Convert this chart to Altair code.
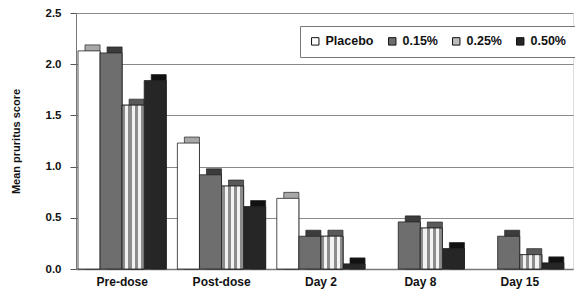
import altair as alt
import pandas as pd

categories = ["Pre-dose", "Post-dose", "Day 2", "Day 8", "Day 15"]
groups = ["Placebo", "0.15%", "0.25%", "0.50%"]
placebo = [2.13, 1.23, 0.69, 0.0, 0.0]
pct015 = [2.11, 0.92, 0.32, 0.46, 0.32]
pct025 = [1.60, 0.81, 0.32, 0.40, 0.14]
pct050 = [1.84, 0.61, 0.05, 0.20, 0.06]

front_colors = ["#ffffff", "#6e6e6e", "#bdbdbd", "#262626"]
side_colors = ["#a8a8a8", "#3c3c3c", "#5a5a5a", "#111111"]

rows = []
for gi, (g, vals) in enumerate(zip(groups, [placebo, pct015, pct025, pct050])):
    for ci, (c, v) in enumerate(zip(categories, vals)):
        rows.append({"cat": c, "ci": ci, "grp": g, "gi": gi, "val": v})
df = pd.DataFrame(rows)

BAR = 0.222
START = 0.02

base = alt.Chart(df).transform_filter(alt.datum.val > 0).transform_calculate(
    x0=f"datum.ci + {START} + datum.gi * {BAR}",
    x1=f"datum.ci + {START} + (datum.gi + 1) * {BAR}",
    side="datum.grp + ' side'",
)

label_expr = "[" + ",".join(f"'{c}'" for c in categories) + "][floor(datum.value)]"

x = alt.X("x0:Q", title=None,
          scale=alt.Scale(domain=[0, 5], nice=False, zero=False),
          axis=alt.Axis(values=[0.46, 1.46, 2.46, 3.46, 4.46], labelExpr=label_expr,
                        labelAngle=0, labelFont="Liberation Sans", labelFontWeight="bold",
                        labelFontSize=12, labelColor="#111", ticks=False, grid=False,
                        labelPadding=7, domainColor="#777", domainWidth=1.5))
x2 = alt.X2("x1:Q")
y = alt.Y("val:Q", title="Mean pruritus score",
          scale=alt.Scale(domain=[0, 2.5], nice=False),
          axis=alt.Axis(values=[0, 0.5, 1.0, 1.5, 2.0, 2.5], format=".1f",
                        labelFont="Liberation Sans", labelFontWeight="bold", labelFontSize=11.5,
                        labelColor="#111", labelPadding=9, tickSize=6, tickColor="#555",
                        domainColor="#777", gridColor="#8a8a8a", gridWidth=1,
                        titleFont="Liberation Sans", titleFontWeight="bold", titleFontSize=11,
                        titleColor="#111", titlePadding=24))
y2 = alt.Y2(datum=0)

side = base.mark_bar(xOffset=7, yOffset=-6, stroke="#222", strokeWidth=0.7).encode(
    x=x, x2=x2, y=y, y2=y2,
    fill=alt.Fill("side:N", legend=None,
                  scale=alt.Scale(domain=[g + " side" for g in groups], range=side_colors)))

front = base.mark_bar(stroke="#222", strokeWidth=0.8).encode(
    x=x, x2=x2, y=y, y2=y2,
    color=alt.Color("grp:N", sort=groups, title=None,
                    scale=alt.Scale(domain=groups, range=front_colors),
                    legend=alt.Legend(orient="none", legendX=224, legendY=13,
                                      direction="horizontal", symbolType="square",
                                      symbolSize=55, symbolStrokeColor="#111",
                                      symbolStrokeWidth=1, labelFont="Liberation Sans",
                                      labelFontWeight="bold", labelFontSize=12.5,
                                      labelColor="#111", columnPadding=12, labelOffset=4,
                                      strokeColor="#777", fillColor="#ffffff", padding=9)))

stops = []
n = 7
for i in range(n):
    col = "#8c8c8c" if i % 2 == 0 else "#f2f2f2"
    stops.append(alt.GradientStop(offset=i / n, color=col))
    stops.append(alt.GradientStop(offset=(i + 1) / n, color=col))
stripe = alt.Gradient(gradient="linear", stops=stops, x1=0, x2=1, y1=0, y2=0)

striped = base.transform_filter(alt.datum.grp == "0.25%").mark_bar(
    fill=stripe, stroke="#222", strokeWidth=0.8).encode(x=x, x2=x2, y=y, y2=y2)

chart = alt.layer(side, front, striped).resolve_scale(
    color="independent", fill="independent"
).resolve_legend(color="independent", fill="independent").properties(
    width=497, height=256,
    autosize=alt.AutoSizeParams(type="none"),
    padding={"left": 68, "top": 5, "right": 2, "bottom": 22},
).configure_view(stroke="#8a8a8a", strokeWidth=1).configure(background="#ffffff")

chart.save("out.html", embed_options={"renderer": "svg", "actions": False})
